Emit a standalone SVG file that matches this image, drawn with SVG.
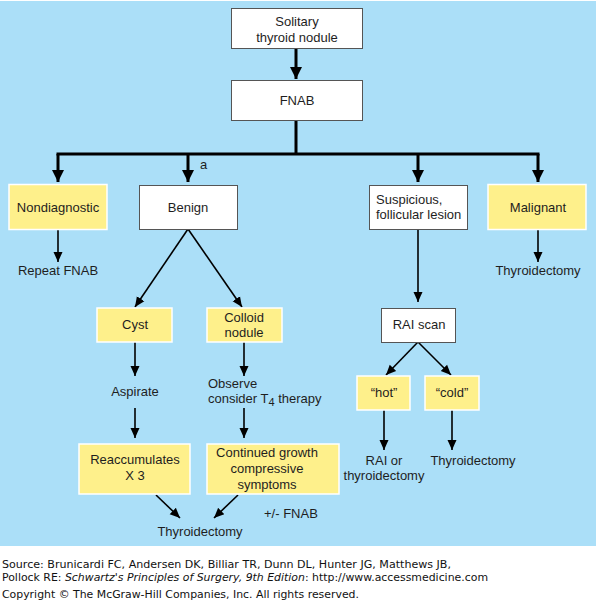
<svg xmlns="http://www.w3.org/2000/svg" width="596" height="601" viewBox="0 0 596 601">
<style>
.t{font-family:"Liberation Sans",Arial,sans-serif;font-size:13px;fill:#1e1e1e;text-anchor:middle}
.tl{text-anchor:start}
.wb{fill:#fff;stroke:#555;stroke-width:1}
.yb{fill:#fef08b;stroke:#fff;stroke-width:1.5}
.thick{stroke:#000;stroke-width:3;fill:none}
.thin{stroke:#000;stroke-width:1.6;fill:none}
.f{font-family:"DejaVu Sans",Verdana,sans-serif;font-size:10px;fill:#111}
</style>
<defs>
<marker id="ah" markerUnits="userSpaceOnUse" markerWidth="14" markerHeight="14" refX="12" refY="6" orient="auto" viewBox="0 0 14 12">
<path d="M0,0 L12,6 L0,12 z" fill="#000"/>
</marker>
<marker id="as" markerUnits="userSpaceOnUse" markerWidth="12" markerHeight="12" refX="10" refY="4.5" orient="auto" viewBox="0 0 12 9">
<path d="M0,0 L10,4.5 L0,9 z" fill="#000"/>
</marker>
</defs>
<rect x="0" y="0" width="596" height="601" fill="#fff"/>
<rect x="0" y="1" width="596" height="545" fill="#abdff8"/>

<g id="connectors">
<path class="thick" d="M296,48 V79" marker-end="url(#ah)"/>
<path class="thick" d="M296,120 V154 M56.5,154 H539.5"/>
<path class="thick" d="M58,154 V182" marker-end="url(#ah)"/>
<path class="thick" d="M188,154 V182" marker-end="url(#ah)"/>
<path class="thick" d="M418,154 V182" marker-end="url(#ah)"/>
<path class="thick" d="M538,154 V182" marker-end="url(#ah)"/>
<path class="thin" d="M58,229 V262" marker-end="url(#as)"/>
<path class="thin" d="M538,229 V262" marker-end="url(#as)"/>
<path class="thin" d="M188,229 L135,307" marker-end="url(#as)"/>
<path class="thin" d="M188,229 L242,307" marker-end="url(#as)"/>
<path class="thin" d="M418,229 V302" marker-end="url(#as)"/>
<path class="thin" d="M418,342 L386,375" marker-end="url(#as)"/>
<path class="thin" d="M418,342 L451,375" marker-end="url(#as)"/>
<path class="thin" d="M135,342 V376" marker-end="url(#as)"/>
<path class="thin" d="M244,342 V376" marker-end="url(#as)"/>
<path class="thin" d="M384,410 V450" marker-end="url(#as)"/>
<path class="thin" d="M452,410 V450" marker-end="url(#as)"/>
<path class="thin" d="M135,408 V438" marker-end="url(#as)"/>
<path class="thin" d="M244,408 V438" marker-end="url(#as)"/>
<path class="thin" d="M156,495 L180,518" marker-end="url(#as)"/>
<path class="thin" d="M238,495 L214,518" marker-end="url(#as)"/>
<text class="t tl" x="200" y="169">a</text>
</g>

<g id="solitary"><rect class="wb" x="231.5" y="8.5" width="131" height="40"/>
<text class="t" x="297" y="26">Solitary</text><text class="t" x="297" y="42">thyroid nodule</text></g>
<g id="fnab"><rect class="wb" x="231.5" y="80.5" width="131" height="40"/>
<text class="t" x="297" y="105">FNAB</text></g>

<g id="nondiagnostic"><rect class="yb" x="9" y="184.5" width="98" height="45"/>
<text class="t" x="58" y="212">Nondiagnostic</text></g>
<g id="benign"><rect class="wb" x="139.5" y="185.5" width="98" height="44"/>
<text class="t" x="188" y="212">Benign</text></g>
<g id="suspicious"><rect class="wb" x="369.5" y="185.5" width="98" height="44"/>
<text class="t tl" x="376" y="204">Suspicious,</text><text class="t tl" x="376" y="219">follicular lesion</text></g>
<g id="malignant"><rect class="yb" x="488" y="184.5" width="98" height="45"/>
<text class="t" x="538" y="212">Malignant</text></g>

<g id="repeat-fnab"><text class="t" x="58" y="275">Repeat FNAB</text></g>
<g id="thyroidectomy-malignant"><text class="t" x="538" y="275">Thyroidectomy</text></g>

<g id="cyst"><rect class="yb" x="97" y="308" width="75" height="34"/>
<text class="t" x="135" y="329">Cyst</text></g>
<g id="colloid"><rect class="yb" x="207" y="308" width="75" height="34"/>
<text class="t" x="244" y="322">Colloid</text><text class="t" x="244" y="337">nodule</text></g>
<g id="rai-scan"><rect class="wb" x="381.5" y="308.5" width="74" height="34"/>
<text class="t" x="419" y="329">RAI scan</text></g>

<g id="hot"><rect class="yb" x="357" y="376" width="53" height="34"/>
<text class="t" x="384" y="397">“hot”</text></g>
<g id="cold"><rect class="yb" x="425" y="376" width="54" height="34"/>
<text class="t" x="452" y="397">“cold”</text></g>

<g id="aspirate"><text class="t" x="135" y="396">Aspirate</text></g>
<g id="observe"><text class="t tl" x="208" y="388">Observe</text>
<text class="t tl" x="208" y="403">consider T<tspan font-size="11" dy="3">4</tspan><tspan dy="-3"> therapy</tspan></text></g>

<g id="rai-or"><text class="t" x="384" y="465">RAI or</text><text class="t" x="384" y="480">thyroidectomy</text></g>
<g id="thyroidectomy-cold"><text class="t" x="473" y="465">Thyroidectomy</text></g>

<g id="reaccumulates"><rect class="yb" x="79" y="444" width="111" height="50"/>
<text class="t" x="135" y="464">Reaccumulates</text><text class="t" x="135" y="480">X 3</text></g>
<g id="continued"><rect class="yb" x="207" y="444" width="132" height="50"/>
<text class="t" x="267" y="457">Continued growth</text><text class="t" x="267" y="473">compressive</text><text class="t" x="267" y="489">symptoms</text></g>

<g id="thyroidectomy-bottom"><text class="t" x="200" y="536">Thyroidectomy</text></g>
<g id="fnab-note"><text class="t tl" x="264" y="518">+/- FNAB</text></g>

<g id="footer">
<text class="f" x="2" y="568" textLength="449" lengthAdjust="spacingAndGlyphs">Source: Brunicardi FC, Andersen DK, Billiar TR, Dunn DL, Hunter JG, Matthews JB,</text>
<text class="f" x="2" y="581" textLength="486" lengthAdjust="spacingAndGlyphs">Pollock RE: <tspan font-style="italic">Schwartz's Principles of Surgery, 9th Edition</tspan>: http://www.accessmedicine.com</text>
<text class="f" x="2" y="598" textLength="357" lengthAdjust="spacingAndGlyphs">Copyright © The McGraw-Hill Companies, Inc. All rights reserved.</text>
</g>
</svg>
